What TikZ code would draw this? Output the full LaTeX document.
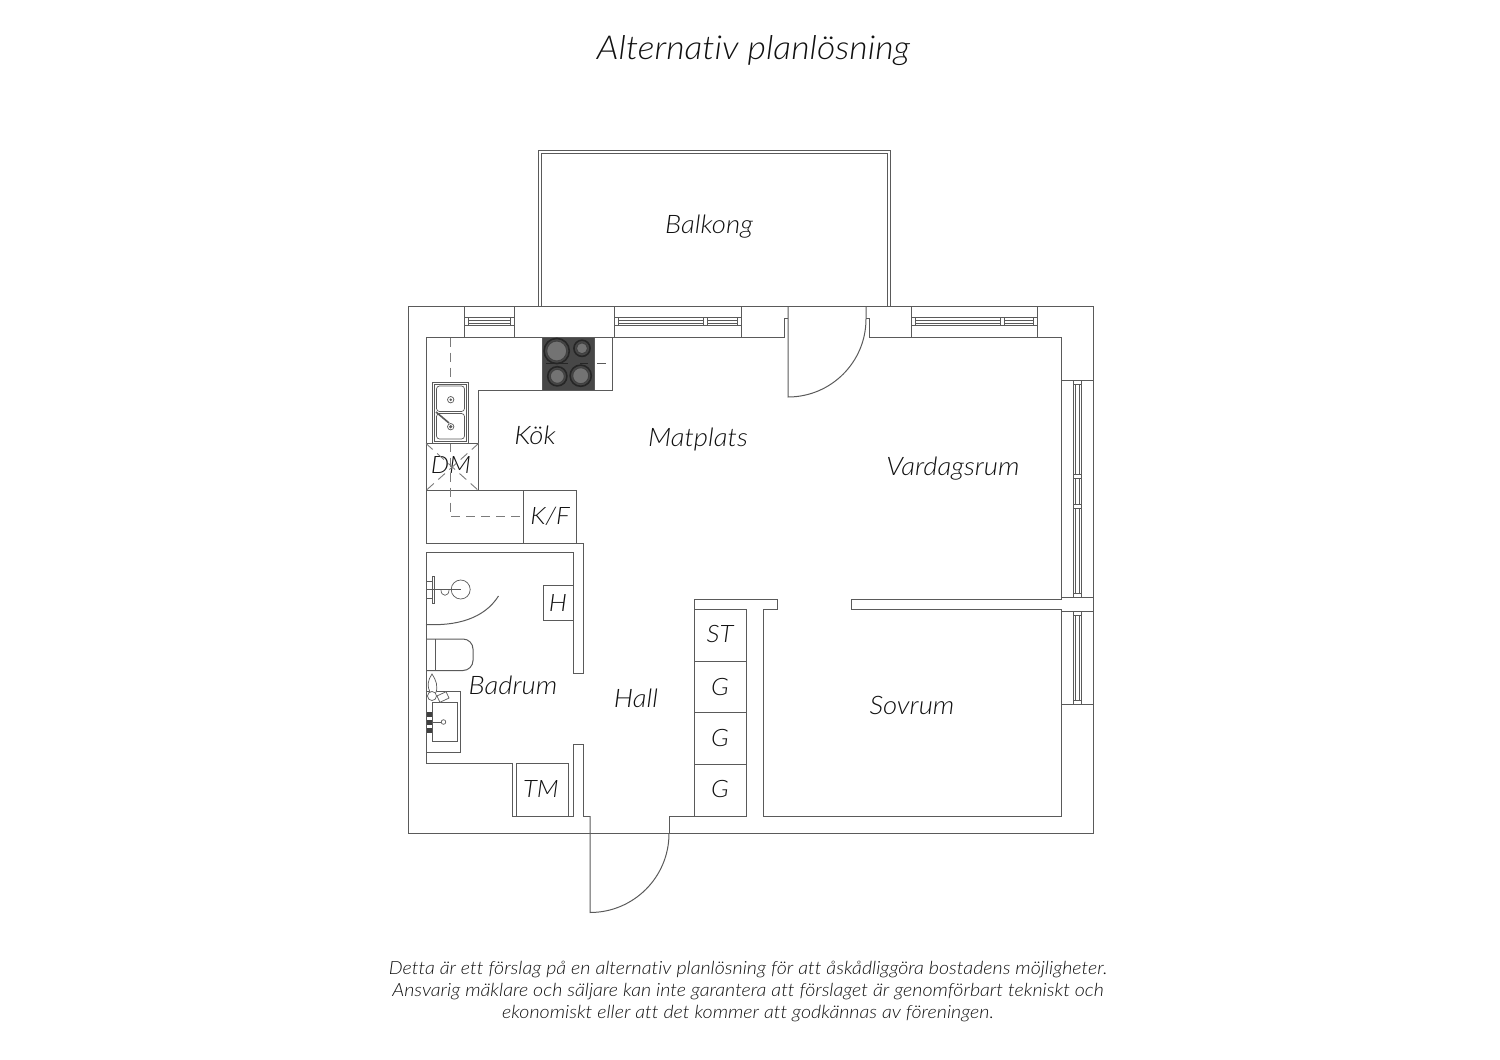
\documentclass[tikz,border=0pt]{standalone}
\usepackage{fontspec}
\setmainfont{Lato}[ItalicFont={Lato Light Italic}, ItalicFeatures={FakeStretch=1.08, Ligatures=NoCommon}]
\usepackage{tikz}
\definecolor{wallc}{HTML}{5A5A5A}
\definecolor{textc}{HTML}{111111}
\tikzstyle{wall} = [draw=wallc, line width=1pt, line join=miter]
\tikzstyle{fineline} = [draw=wallc, line width=0.7pt]
\tikzstyle{dashline} = [draw=wallc!80, line width=0.9pt, dash pattern=on 9pt off 6pt]
\tikzstyle{room} = [font=\fontsize{25.5}{25.5}\selectfont\itshape, text=textc, inner sep=0pt]
\tikzstyle{unit} = [font=\fontsize{24}{24}\selectfont\itshape, text=textc, inner sep=0pt]
\tikzstyle{note} = [font=\fontsize{18.2}{22}\selectfont\itshape, text=textc, inner sep=0pt, align=center]
\tikzstyle{burner} = [draw=black!75, line width=1pt, fill=wallc!85!white]

\begin{document}
\begin{tikzpicture}[x=1pt, y=-1pt]
\useasboundingbox (0,0) rectangle (1500,1060);

% texts
\node(title)     [room, font=\fontsize{33}{33}\selectfont\itshape] at (753.5,51)  {Alternativ planlösning};
\node(balkong)   [room] at (709,226.5) {Balkong};
\node(kok)       [room] at (535,435.5) {Kök};
\node(matplats)  [room] at (698,439.5) {Matplats};
\node(vardagsrum)[room] at (953,468.5) {Vardagsrum};
\node(sovrum)    [room] at (912,705) {Sovrum};
\node(badrum)    [room] at (513,685) {Badrum};
\node(hall)      [room] at (636,698) {Hall};
\node(st)        [unit] at (720,634) {ST};
\node(ga)        [unit] at (720,687) {G};
\node(gb)        [unit] at (720,738.5) {G};
\node(gc)        [unit] at (720,789.5) {G};
\node(tm)        [unit] at (541,789) {TM};
\node(h)         [unit] at (558,603) {H};
\node(kf)        [unit] at (550,516.5) {K/F};
\node(dm)        [unit] at (451,465) {DM};
\node(notes)     [note] at (748,992) {Detta är ett förslag på en alternativ planlösning för att åskådliggöra bostadens möjligheter.\\Ansvarig mäklare och säljare kan inte garantera att förslaget är genomförbart tekniskt och\\ekonomiskt eller att det kommer att godkännas av föreningen.};

% outer walls and balcony
\draw [wall] (408,306) rectangle (1093,833);
\draw [wall] (538,306) |- (890.5,150) -- (890.5,306);
\draw [wall] (541.5,306) |- (887,153.5) -- (887,306);

% kitchen
\draw [wall] (426,543) -- (426,337.5) -- (784,337.5) -- (784,318) -- (788,318);
\draw [wall] (612,337.5) -- (612,390) -- (478.5,390) -- (478.5,490.5);
\draw [wall] (426,443.5) -- (478.5,443.5);
\draw [wall] (426,490.5) -- (576,490.5) -- (576,543);
\draw [wall] (523.5,490.5) -- (523.5,543);
\draw [wall] (426,543) -- (583,543) -- (583,673.5) -- (573,673.5) -- (573,552.5) -- (426,552.5);
\draw [dashline] (450,337.5) -- (450,516.5) -- (523.5,516.5);
\draw [dashline] (426,443.5) -- (478.5,490.5);
\draw [dashline] (478.5,443.5) -- (426,490.5);

% stove
\draw [wall, fill=black!72] (542.5,337.5) rectangle (594.5,390);
\foreach \bx/\by/\br in {556.7/351/10, 582/348.3/5.5, 557.3/376.3/7, 580.7/375.7/8}{
  \draw [draw=black!85, line width=1.6pt] (\bx,\by) circle (\br+2.6);
  \draw [burner] (\bx,\by) circle (\br);
}
\draw [fineline, black!85] (546,363.5) -- (568,363.5) (580,363.5) -- (588,363.5);
\draw [fineline] (597,363.5) -- (606,363.5);

% kitchen sink
\draw [wall, fill=white] (432.7,382) rectangle (468.3,443.5);
\draw [fineline] (434.5,384) rectangle (466.5,441.5);
\draw [fineline, rounded corners=3pt] (436.5,386) rectangle (464.5,411.5);
\draw [fineline, rounded corners=3pt] (436.5,413.5) rectangle (464.5,439);
\draw [fineline] (450.7,399.7) circle (3.2);
\draw [fineline] (450.7,426.7) circle (3.2);
\fill [wallc] (450.7,399.7) circle (1.4) (450.7,426.7) circle (1.8);
\draw [draw=wallc, line width=1.6pt] (436,412) -- (449,423);

% bathroom
\draw [wall] (426,552.5) -- (426,763.5) -- (512.5,763.5) -- (512.5,816) -- (573,816) -- (573,744) -- (583,744) -- (583,816) -- (590,816);
\draw [wall] (516,816) -- (516,763.5) -- (568.5,763.5) -- (568.5,816);
\draw [wall] (543.5,620.5) rectangle (573,585.5);
\draw [wall] (426,624.5) .. controls (456,626) and (484,619) .. (498.5,596);
\draw [fineline] (460.7,589.5) circle (9.5);
\draw [wall] (426,589.5) -- (460.7,589.5);
\draw [fineline] (432,576) rectangle (434,603);
\draw [fineline] (426,581) -- (432,581) (426,598) -- (432,598);
\draw [fineline] (441,590) .. controls (441,597) and (449,597) .. (449,590);
% toilet
\draw [wall, rounded corners=10pt] (426,639) -- (473,639) -- (473,670.5) -- (426,670.5);
\draw [wall] (435.7,639) -- (435.7,670.5);
% washbasin
\draw [wall] (426,691) -- (460.7,691) -- (460.7,752.5) -- (426,752.5);
\draw [wall] (432,702.5) rectangle (457.7,741.5);
\draw [wall] (426,722) -- (441,722);
\draw [fineline, fill=white] (443.5,722) circle (2.3);
\foreach \ty in {714.5,722,730}{
  \fill [black!75] (426.5,\ty-2.5) rectangle (431.5,\ty+2.5);
}
\draw [fineline, fill=white] (431.5,694.5) .. controls (426,686) and (428,680) .. (432,674) .. controls (436,680) and (439,687) .. (435,694.5);
\draw [fineline, fill=white] (432,696) circle (4.5);
\draw [fineline, fill=white, rotate around={25:(443,697)}] (438,693.5) rectangle (448,700.5);

% hall, closets
\draw [wall] (669,833.5) -- (669,816) -- (746.7,816) -- (746.7,609.5);
\draw [wall] (694.5,816) -- (694.5,599.5) -- (777.5,599.5) -- (777.5,609.5) -- (763.5,609.5) -- (763.5,816) -- (1061.7,816);
\draw [wall] (694.5,609.5) -- (746.7,609.5);
\foreach \cy in {661,712.7,764.3}{
  \draw [wall] (694.5,\cy) -- (746.7,\cy);
}

% bedroom wall, right side
\draw [wall] (869,337.5) -- (1061.7,337.5) -- (1061.7,599.5) -- (851,599.5) -- (851,609.5) -- (1061.7,609.5) -- (1061.7,816);
\draw [wall] (1061.7,380.7) -- (1093,380.7);
\draw [wall] (1061.7,597) -- (1093,597);
\draw [wall] (1061.7,611) -- (1093,611);
\draw [wall] (1061.7,704.3) -- (1093,704.3);

% doors
\draw [wall] (788,306) -- (788,397) arc (90:0:78) -- (866,306);
\draw [wall] (866,318) -- (869,318) -- (869,337.5);
\draw [wall] (590,816) -- (590,912.5) arc (90:0:79);

% windows, top wall
\foreach \xa/\xb/\xd in {464.5/514.5/0, 614.7/741.7/705, 911.7/1037.3/1002}{
  \draw [wall] (\xa,306) -- (\xa,337.5) (\xb,306) -- (\xb,337.5);
  \draw [fineline] (\xa+4,317.7) rectangle (\xb-4,325.7);
  \draw [fineline] (\xa,317.7) -- (\xa+4,317.7) (\xa,325.7) -- (\xa+4,325.7) (\xb-4,317.7) -- (\xb,317.7) (\xb-4,325.7) -- (\xb,325.7);
  \draw [fineline] (\xa+4,320) -- (\xb-4,320) (\xa+4,323.5) -- (\xb-4,323.5);
  \ifnum\xd>0
    \draw [fineline, fill=white] (\xd-2,317.7) rectangle (\xd+2,325.7);
  \fi
}

% windows, right wall
\foreach \ya/\yb in {380.7/597, 611/704.3}{
  \draw [fineline] (1073.3,\ya) rectangle (1081.7,\yb);
  \draw [fineline] (1075.5,\ya+4) -- (1075.5,\yb-4) (1079.5,\ya+4) -- (1079.5,\yb-4);
  \draw [fineline] (1073.3,\ya+4) -- (1081.7,\ya+4) (1073.3,\yb-4) -- (1081.7,\yb-4);
}
\foreach \yd in {476,506}{
  \draw [fineline, fill=white] (1073.3,\yd-2) rectangle (1081.7,\yd+2);
}

\end{tikzpicture}
\end{document}
